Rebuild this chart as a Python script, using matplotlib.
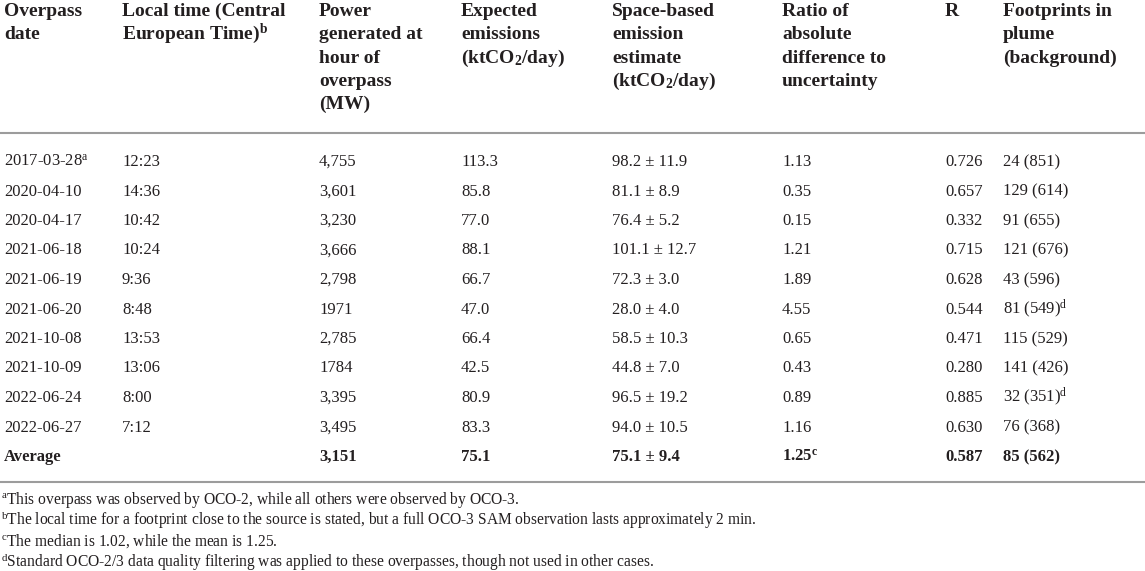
import matplotlib.pyplot as plt

plt.rcParams['font.family'] = ['Liberation Serif', 'DejaVu Serif']
plt.rcParams['mathtext.fontset'] = 'custom'
plt.rcParams['mathtext.rm'] = 'Liberation Serif'
plt.rcParams['mathtext.default'] = 'regular'

# table content
headers = [
    "Overpass\ndate",
    "Local time (Central\nEuropean Time)$^{b}$",
    "Power\ngenerated at\nhour of\noverpass\n(MW)",
    "Expected\nemissions\n(ktCO$_2$/day)",
    "Space-based\nemission\nestimate\n(ktCO$_2$/day)",
    "Ratio of\nabsolute\ndifference to\nuncertainty",
    "R",
    "Footprints in\nplume\n(background)",
]
dates = ["2017-03-28$^{a}$", "2020-04-10", "2020-04-17", "2021-06-18", "2021-06-19",
         "2021-06-20", "2021-10-08", "2021-10-09", "2022-06-24", "2022-06-27"]
local_times = ["12:23", "14:36", "10:42", "10:24", "9:36", "8:48", "13:53", "13:06", "8:00", "7:12"]
power = ["4,755", "3,601", "3,230", "3,666", "2,798", "1971", "2,785", "1784", "3,395", "3,495"]
expected = [113.3, 85.8, 77.0, 88.1, 66.7, 47.0, 66.4, 42.5, 80.9, 83.3]
estimate = [98.2, 81.1, 76.4, 101.1, 72.3, 28.0, 58.5, 44.8, 96.5, 94.0]
uncert = [11.9, 8.9, 5.2, 12.7, 3.0, 4.0, 10.3, 7.0, 19.2, 10.5]
ratio = [1.13, 0.35, 0.15, 1.21, 1.89, 4.55, 0.65, 0.43, 0.89, 1.16]
r_vals = [0.726, 0.657, 0.332, 0.715, 0.628, 0.544, 0.471, 0.280, 0.885, 0.630]
fp_plume = [24, 129, 91, 121, 43, 81, 115, 141, 32, 76]
fp_background = [851, 614, 655, 676, 596, 549, 529, 426, 351, 368]
fp_notes = ["", "", "", "", "", "d", "", "", "d", ""]

average_row = ["Average", "", "3,151", "75.1", "75.1 ± 9.4", "1.25$^{c}$", "0.587", "85 (562)"]

footnotes = [
    "$^{a}$This overpass was observed by OCO-2, while all others were observed by OCO-3.",
    "$^{b}$The local time for a footprint close to the source is stated, but a full OCO-3 SAM observation lasts approximately 2 min.",
    "$^{c}$The median is 1.02, while the mean is 1.25.",
    "$^{d}$Standard OCO-2/3 data quality filtering was applied to these overpasses, though not used in other cases.",
]

col_x = [4, 122, 319, 461, 612, 782, 945, 1003]
text_color = '#231f20'
rule_color = '#9c9c9c'


def main():
    fig = plt.figure(figsize=(11.45, 5.71), dpi=100)
    ax = fig.add_axes([0, 0, 1, 1])
    ax.set_xlim(0, 1145)
    ax.set_ylim(571, 0)
    ax.axis('off')

    # header, one line at a time so sub/superscripts don't push lines apart
    for x, h in zip(col_x, headers):
        for k, line in enumerate(h.split("\n")):
            ax.text(x, 16 + k * 23.3, line, fontsize=14, fontweight='bold',
                    color=text_color, va='baseline', ha='left')

    ax.axhline(133, color=rule_color, lw=1.5)

    rows = []
    for i in range(len(dates)):
        note = "$^{%s}$" % fp_notes[i] if fp_notes[i] else ""
        rows.append([
            dates[i], local_times[i], power[i], f"{expected[i]:.1f}",
            f"{estimate[i]:.1f} ± {uncert[i]:.1f}", f"{ratio[i]:.2f}",
            f"{r_vals[i]:.3f}", f"{fp_plume[i]} ({fp_background[i]})" + note,
        ])

    y0, dy = 166, 29.5
    for i, row in enumerate(rows):
        for x, cell in zip(col_x, row):
            ax.text(x, y0 + i * dy, cell, fontsize=12, color=text_color,
                    va='baseline', ha='left')
    for x, cell in zip(col_x, average_row):
        ax.text(x, y0 + len(rows) * dy, cell, fontsize=12, fontweight='bold',
                color=text_color, va='baseline', ha='left')

    ax.axhline(482, color=rule_color, lw=1.5)

    for j, note in enumerate(footnotes):
        ax.text(1, 504 + j * 21, note, fontsize=11.2, color=text_color,
                va='baseline', ha='left')

    fig.savefig("out.png", dpi=100)


if __name__ == "__main__":
    main()
